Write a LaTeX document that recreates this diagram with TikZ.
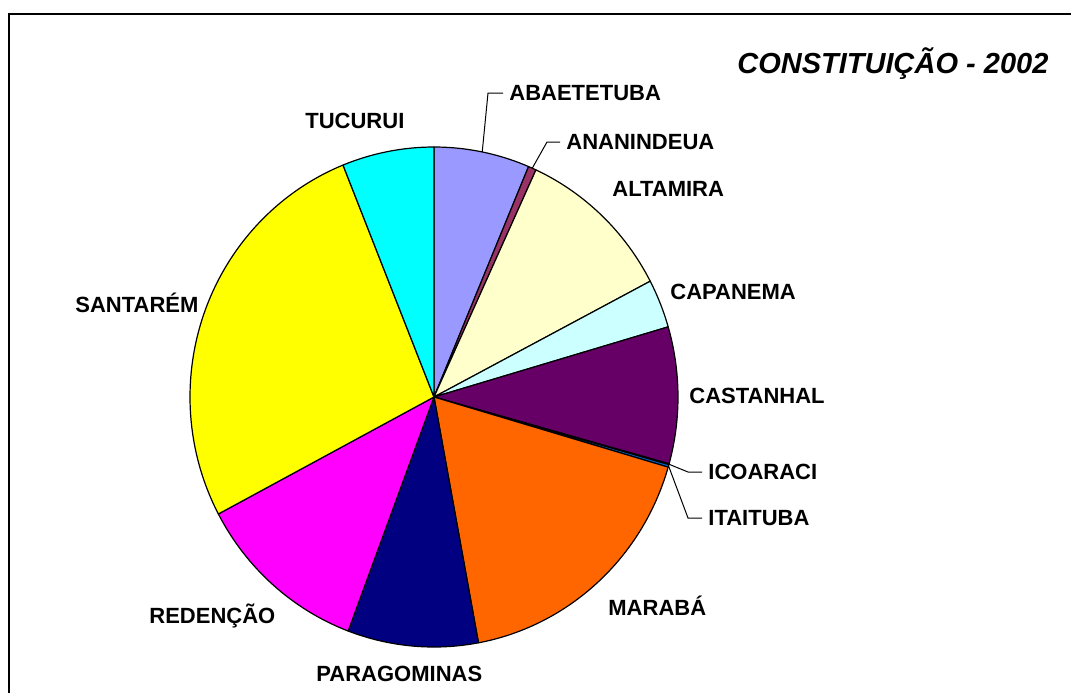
\documentclass[tikz,border=0pt]{standalone}
\usepackage{fontspec}
\setmainfont{Liberation Sans}
\definecolor{cAba}{HTML}{9999FF}
\definecolor{cAna}{HTML}{993366}
\definecolor{cAlt}{HTML}{FFFFCC}
\definecolor{cCap}{HTML}{CCFFFF}
\definecolor{cCas}{HTML}{660066}
\definecolor{cIco}{HTML}{FF8080}
\definecolor{cIta}{HTML}{0066CC}
\definecolor{cMar}{HTML}{FF6600}
\definecolor{cPar}{HTML}{000080}
\definecolor{cRed}{HTML}{FF00FF}
\definecolor{cSan}{HTML}{FFFF00}
\definecolor{cTuc}{HTML}{00FFFF}
\newcommand\pieslice[3]{\filldraw[slice,fill=#3] (c) -- ++(#1:122pt and 125pt) arc[start angle=#1,end angle=#2,x radius=122pt,y radius=125pt] -- cycle;}
\begin{document}
\begin{tikzpicture}[x=0.5pt,y=-0.5pt,
  slice/.style={draw=black,line width=0.6pt,line join=round},
  lbl/.style={font=\fontsize{11}{13}\selectfont\bfseries,inner sep=0pt,anchor=base west},
  leadlbl/.style={font=\fontsize{11}{13}\selectfont\bfseries,inner sep=3pt,anchor=west},
  leader/.style={draw=black,line width=0.5pt},
  frameline/.style={draw=black,line width=1pt}]
\useasboundingbox (0,0) rectangle (1071,693);
% frame
\coordinate (fTR) at (1071,14);
\coordinate (fTL) at (9,14);
\coordinate (fBL) at (9,693);
\draw[frameline] (fTR) -- (fTL) -- (fBL);
% pie
\coordinate (c) at (434,397);
\pieslice{90}{67.2}{cAba}
\pieslice{67.2}{65.3}{cAna}
\pieslice{65.3}{27.6}{cAlt}
\pieslice{27.6}{16.3}{cCap}
\pieslice{16.3}{-15.5}{cCas}
\pieslice{-15.5}{-15.7}{cIco}
\pieslice{-15.7}{-16.3}{cIta}
\pieslice{-16.3}{-79.5}{cMar}
\pieslice{-79.5}{-110.6}{cPar}
\pieslice{-110.6}{-152.1}{cRed}
\pieslice{-152.1}{-248.1}{cSan}
\pieslice{-248.1}{-270}{cTuc}
% title
\node[lbl,font=\fontsize{14.5}{17}\selectfont\bfseries\itshape] (title) at (737,73) {CONSTITUIÇÃO - 2002};
% plain labels
\node[lbl] (lTuc) at (305,128) {TUCURUI};
\node[lbl] (lAlt) at (612,196) {ALTAMIRA};
\node[lbl] (lCap) at (670,299) {CAPANEMA};
\node[lbl] (lSan) at (75,312) {SANTARÉM};
\node[lbl] (lCas) at (689,403) {CASTANHAL};
\node[lbl] (lMar) at (608,615) {MARABÁ};
\node[lbl] (lRed) at (149,623) {REDENÇÃO};
\node[lbl] (lPar) at (316,681) {PARAGOMINAS};
% leader labels
\node[leadlbl] (lAba) at (503,93) {ABAETETUBA};
\node[leadlbl] (lAna) at (560,142) {ANANINDEUA};
\node[leadlbl] (lIco) at (702,472) {ICOARACI};
\node[leadlbl] (lIta) at (702,518) {ITAITUBA};
% rim points
\path (c) ++(78.6:122pt and 125pt) coordinate (rAba);
\path (c) ++(66.25:122pt and 125pt) coordinate (rAna);
\path (c) ++(-15.6:122pt and 125pt) coordinate (rIco);
\path (c) ++(-16.0:122pt and 125pt) coordinate (rIta);
% bends
\coordinate (bAba) at (488,93);
\coordinate (bAna) at (547,142);
\coordinate (bIco) at (688,472);
\coordinate (bIta) at (688,518);
\draw[leader] (rAba) -- (bAba) -- (lAba.west);
\draw[leader] (rAna) -- (bAna) -- (lAna.west);
\draw[leader] (rIco) -- (bIco) -- (lIco.west);
\draw[leader] (rIta) -- (bIta) -- (lIta.west);
\end{tikzpicture}
\end{document}
